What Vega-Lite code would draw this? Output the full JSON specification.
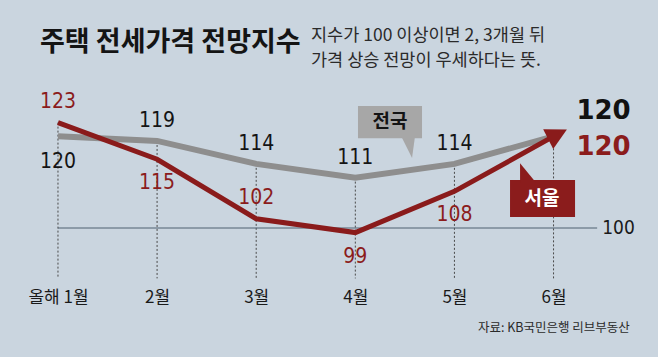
{
  "$schema": "https://vega.github.io/schema/vega-lite/v6.json",
  "width": 658,
  "height": 203,
  "autosize": {"type": "none"},
  "padding": {"left": 0, "right": 0, "top": 80, "bottom": 74},
  "background": "#cad5df",
  "config": {"view": {"stroke": null}, "font": "Noto Sans CJK KR"},
  "title": {
    "text": "주택 전세가격 전망지수",
    "anchor": "start",
    "frame": "group",
    "dx": 40,
    "offset": -51,
    "baseline": "alphabetic",
    "fontSize": 27,
    "fontWeight": "bold",
    "color": "#141414",
    "font": "Noto Sans CJK KR"
  },
  "datasets": {
    "index": [
      {"month": 1, "region": "전국", "value": 120},
      {"month": 2, "region": "전국", "value": 119},
      {"month": 3, "region": "전국", "value": 114},
      {"month": 4, "region": "전국", "value": 111},
      {"month": 5, "region": "전국", "value": 114},
      {"month": 6, "region": "전국", "value": 120},
      {"month": 1, "region": "서울", "value": 123},
      {"month": 2, "region": "서울", "value": 115},
      {"month": 3, "region": "서울", "value": 102},
      {"month": 4, "region": "서울", "value": 99},
      {"month": 5, "region": "서울", "value": 108},
      {"month": 6, "region": "서울", "value": 120}
    ],
    "one": [{"k": 1}]
  },
  "layer": [
    {
      "data": {"name": "index"},
      "transform": [{"aggregate": [{"op": "max", "field": "value", "as": "top"}], "groupby": ["month"]}],
      "mark": {"type": "rule", "color": "#4a4a4a", "strokeWidth": 1, "strokeDash": [2, 2]},
      "encoding": {
        "x": {
          "field": "month",
          "type": "quantitative",
          "scale": {"domain": [0.415, 7.054], "nice": false, "zero": false},
          "axis": {
            "values": [1, 2, 3, 4, 5, 6],
            "labelExpr": "datum.value == 1 ? '올해 1월' : datum.value + '월'",
            "domain": false,
            "ticks": false,
            "grid": false,
            "title": null,
            "labelFlush": false,
            "labelFont": "Noto Sans CJK KR",
            "labelFontSize": 17,
            "labelColor": "#1a1a1a",
            "labelPadding": 6
          }
        },
        "y": {
          "field": "top",
          "type": "quantitative",
          "scale": {"domain": [88, 132.3], "nice": false, "zero": false},
          "axis": null
        },
        "y2": {"datum": 89}
      }
    },
    {
      "data": {"name": "one"},
      "mark": {"type": "rule", "color": "#4f6070", "strokeWidth": 1},
      "encoding": {
        "x": {"datum": 1, "type": "quantitative"},
        "x2": {"datum": 6.44},
        "y": {"datum": 100, "type": "quantitative"}
      }
    },
    {
      "data": {"name": "index"},
      "transform": [{"filter": "datum.region == '전국'"}],
      "mark": {"type": "line", "color": "#8e8e8e", "strokeWidth": 6},
      "encoding": {
        "x": {"field": "month", "type": "quantitative"},
        "y": {"field": "value", "type": "quantitative"}
      }
    },
    {
      "data": {"name": "index"},
      "transform": [{"filter": "datum.region == '서울'"}],
      "mark": {"type": "line", "color": "#8a1b1b", "strokeWidth": 5},
      "encoding": {
        "x": {"field": "month", "type": "quantitative"},
        "y": {"field": "value", "type": "quantitative"}
      }
    },
    {
      "data": {"name": "index"},
      "transform": [{"filter": "datum.region == '서울' && datum.month == 6"}],
      "mark": {"type": "point", "shape": "M1.5,0L-0.6,-1.1L-0.6,1.1Z", "filled": true, "color": "#8a1b1b", "opacity": 1, "size": 400, "angle": -27},
      "encoding": {
        "x": {"field": "month", "type": "quantitative"},
        "y": {"field": "value", "type": "quantitative"}
      }
    },
    {
      "data": {"name": "index"},
      "transform": [{"filter": "datum.region == '전국' && datum.month >= 2 && datum.month <= 5"}],
      "mark": {"type": "text", "font": "Liberation Sans Narrow, DejaVu Sans Condensed, Noto Sans CJK KR", "fontSize": 21, "color": "#141414", "dy": -20},
      "encoding": {
        "x": {"field": "month", "type": "quantitative"},
        "y": {"field": "value", "type": "quantitative"},
        "text": {"field": "value", "type": "quantitative"}
      }
    },
    {
      "data": {"name": "index"},
      "transform": [{"filter": "datum.region == '전국' && datum.month == 1"}],
      "mark": {"type": "text", "font": "Liberation Sans Narrow, DejaVu Sans Condensed, Noto Sans CJK KR", "fontSize": 21, "color": "#141414", "dy": 26},
      "encoding": {
        "x": {"field": "month", "type": "quantitative"},
        "y": {"field": "value", "type": "quantitative"},
        "text": {"field": "value", "type": "quantitative"}
      }
    },
    {
      "data": {"name": "index"},
      "transform": [{"filter": "datum.region == '서울' && (datum.month == 1 || datum.month == 3)"}],
      "mark": {"type": "text", "font": "Liberation Sans Narrow, DejaVu Sans Condensed, Noto Sans CJK KR", "fontSize": 21, "color": "#8b1c1c", "dy": -21},
      "encoding": {
        "x": {"field": "month", "type": "quantitative"},
        "y": {"field": "value", "type": "quantitative"},
        "text": {"field": "value", "type": "quantitative"}
      }
    },
    {
      "data": {"name": "index"},
      "transform": [{"filter": "datum.region == '서울' && (datum.month == 2 || datum.month == 4 || datum.month == 5)"}],
      "mark": {"type": "text", "font": "Liberation Sans Narrow, DejaVu Sans Condensed, Noto Sans CJK KR", "fontSize": 21, "color": "#8b1c1c", "dy": 24},
      "encoding": {
        "x": {"field": "month", "type": "quantitative"},
        "y": {"field": "value", "type": "quantitative"},
        "text": {"field": "value", "type": "quantitative"}
      }
    },
    {
      "data": {"name": "index"},
      "transform": [{"filter": "datum.region == '전국' && datum.month == 6"}],
      "mark": {"type": "text", "font": "DejaVu Sans", "fontWeight": "bold", "fontSize": 26, "color": "#111111", "dx": 50, "dy": -25},
      "encoding": {
        "x": {"field": "month", "type": "quantitative"},
        "y": {"field": "value", "type": "quantitative"},
        "text": {"field": "value", "type": "quantitative"}
      }
    },
    {
      "data": {"name": "index"},
      "transform": [{"filter": "datum.region == '서울' && datum.month == 6"}],
      "mark": {"type": "text", "font": "DejaVu Sans", "fontWeight": "bold", "fontSize": 26, "color": "#8b1c1c", "dx": 50, "dy": 11},
      "encoding": {
        "x": {"field": "month", "type": "quantitative"},
        "y": {"field": "value", "type": "quantitative"},
        "text": {"field": "value", "type": "quantitative"}
      }
    },
    {
      "data": {"name": "one"},
      "mark": {"type": "rect", "color": "#a7a7a7"},
      "encoding": {
        "x": {"datum": 4.027, "type": "quantitative"},
        "x2": {"datum": 4.673},
        "y": {"datum": 126.6, "type": "quantitative"},
        "y2": {"datum": 119.6}
      }
    },
    {
      "data": {"name": "one"},
      "mark": {"type": "point", "shape": "M-0.7,-1.2L0.7,-1.2L0.4,1Z", "filled": true, "color": "#a7a7a7", "opacity": 1, "size": 400},
      "encoding": {
        "x": {"datum": 4.532, "type": "quantitative"},
        "y": {"datum": 117.45, "type": "quantitative"}
      }
    },
    {
      "data": {"name": "one"},
      "mark": {"type": "text", "text": "전국", "font": "Noto Sans CJK KR", "fontWeight": "bold", "fontSize": 19, "color": "#141414"},
      "encoding": {
        "x": {"datum": 4.35, "type": "quantitative"},
        "y": {"datum": 123.1, "type": "quantitative"}
      }
    },
    {
      "data": {"name": "one"},
      "mark": {"type": "rect", "color": "#8b1c1c"},
      "encoding": {
        "x": {"datum": 5.561, "type": "quantitative"},
        "x2": {"datum": 6.217},
        "y": {"datum": 110.47, "type": "quantitative"},
        "y2": {"datum": 102.39}
      }
    },
    {
      "data": {"name": "one"},
      "mark": {"type": "point", "shape": "M-0.7,-0.85L-0.7,1.1L0.9,1.1Z", "filled": true, "color": "#8b1c1c", "opacity": 1, "size": 400},
      "encoding": {
        "x": {"datum": 5.733, "type": "quantitative"},
        "y": {"datum": 112.3, "type": "quantitative"}
      }
    },
    {
      "data": {"name": "one"},
      "mark": {"type": "text", "text": "서울", "font": "Noto Sans CJK KR", "fontWeight": "bold", "fontSize": 19, "color": "#ffffff"},
      "encoding": {
        "x": {"datum": 5.884, "type": "quantitative"},
        "y": {"datum": 106.3, "type": "quantitative"}
      }
    },
    {
      "data": {"name": "one"},
      "mark": {"type": "text", "text": "100", "font": "Liberation Sans Narrow, DejaVu Sans Condensed, Noto Sans CJK KR", "fontSize": 19, "color": "#1a1a1a", "align": "left", "dx": 5},
      "encoding": {
        "x": {"datum": 6.44, "type": "quantitative"},
        "y": {"datum": 100, "type": "quantitative"}
      }
    },
    {
      "data": {"name": "one"},
      "mark": {"type": "text", "text": ["지수가 100 이상이면 2, 3개월 뒤", "가격 상승 전망이 우세하다는 뜻."], "font": "Noto Sans CJK KR", "fontSize": 17.5, "lineHeight": 25, "color": "#2a2a2a", "align": "left", "baseline": "top"},
      "encoding": {
        "x": {"datum": 3.553, "type": "quantitative"},
        "y": {"datum": 143.87, "type": "quantitative"}
      }
    },
    {
      "data": {"name": "one"},
      "mark": {"type": "text", "text": "자료: KB국민은행 리브부동산", "font": "Noto Sans CJK KR", "fontSize": 12.5, "color": "#2a2a2a", "align": "right", "baseline": "middle"},
      "encoding": {
        "x": {"datum": 6.77, "type": "quantitative"},
        "y": {"datum": 78.15, "type": "quantitative"}
      }
    }
  ]
}
